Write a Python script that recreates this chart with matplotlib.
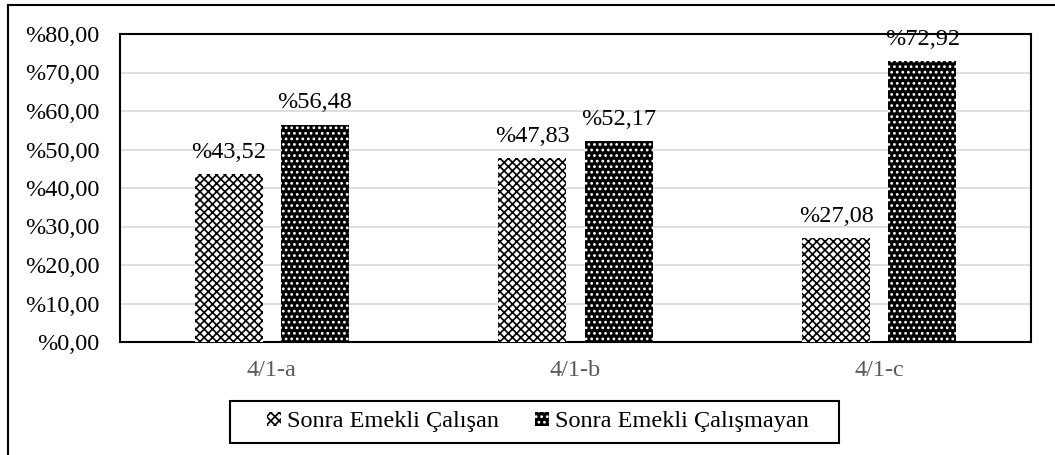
import matplotlib
matplotlib.use("Agg")
import matplotlib.pyplot as plt
from matplotlib.lines import Line2D
from matplotlib.patches import Rectangle
import numpy as np

categories = ["4/1-a", "4/1-b", "4/1-c"]
series_names = ["Sonra Emekli Çalışan", "Sonra Emekli Çalışmayan"]
calisan = [43.52, 47.83, 27.08]
calismayan = [56.48, 52.17, 72.92]
yticks = [0, 10, 20, 30, 40, 50, 60, 70, 80]

def fmt(v):
    return "%" + f"{v:.2f}".replace(".", ",")

plt.rcParams['font.family'] = ['Liberation Serif', 'DejaVu Serif']
plt.rcParams['hatch.linewidth'] = 1.2
FS = 17.5

W, H = 1055, 455
fig = plt.figure(figsize=(W / 100, H / 100), dpi=100)
ax = fig.add_axes([120 / W, 1 - 342 / H, (1031 - 120) / W, (342 - 34) / H])

x = np.arange(len(categories))
bw = 0.224
off = 0.142
b1 = ax.bar(x - off, calisan, bw, facecolor='white', edgecolor='black',
            hatch='xxxx', linewidth=0, label=series_names[0], zorder=3)
b2 = ax.bar(x + off, calismayan, bw, facecolor='black', edgecolor='white',
            hatch='...', linewidth=0, label=series_names[1], zorder=3)

for bars, vals in ((b1, calisan), (b2, calismayan)):
    for r, v in zip(bars, vals):
        ax.annotate(fmt(v), (r.get_x() + r.get_width() / 2, v),
                    xytext=(0, 8), textcoords='offset points',
                    ha='center', va='bottom', fontsize=FS, color='black',
                    zorder=5, annotation_clip=False)

ax.set_xlim(-0.5, len(categories) - 0.5)
ax.set_ylim(0, 80)
ax.set_yticks(yticks)
ax.set_yticklabels([fmt(v) for v in yticks], fontsize=FS, color='black')
ax.set_xticks(x)
ax.set_xticklabels(categories, fontsize=FS, color='#595959')
ax.tick_params(axis='both', length=0)
ax.tick_params(axis='y', pad=15)
ax.tick_params(axis='x', pad=13)
ax.yaxis.grid(True, color='#d9d9d9', linewidth=1.2, zorder=0)
ax.set_axisbelow(True)
for s in ax.spines.values():
    s.set_linewidth(1.5)
    s.set_color('black')

leg = fig.legend(handles=[b1, b2], labels=series_names, loc='center',
                 bbox_to_anchor=(538 / W, 1 - 422 / H), ncol=2,
                 fontsize=FS, frameon=False, handlelength=0.55, handleheight=0.55,
                 handletextpad=0.25, columnspacing=1.5, borderaxespad=0)

fig.add_artist(Rectangle((230 / W, 1 - 443 / H), (839 - 230) / W, (443 - 401) / H,
                         transform=fig.transFigure, facecolor='none',
                         edgecolor='black', linewidth=1.5))

fig.add_artist(Line2D([8 / W, 8 / W], [0, 1 - 5 / H], transform=fig.transFigure,
                      color='black', linewidth=1.5))
fig.add_artist(Line2D([8 / W, 1], [1 - 5 / H, 1 - 5 / H], transform=fig.transFigure,
                      color='black', linewidth=1.5))

fig.savefig("out.png", dpi=100)
